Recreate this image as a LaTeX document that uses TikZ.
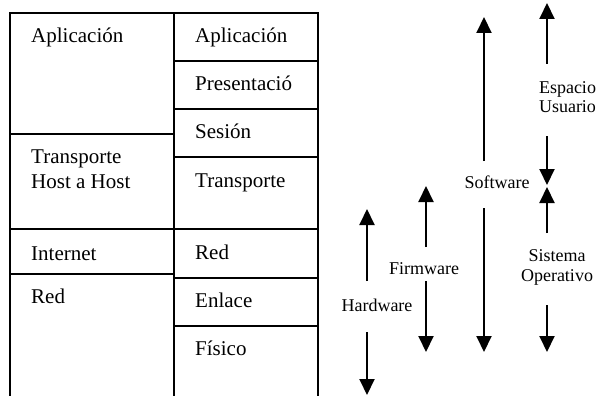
\documentclass[tikz,border=0pt]{standalone}
\usepackage{fontspec}
\setmainfont{Liberation Serif}
\usetikzlibrary{arrows.meta}
\begin{document}
\begin{tikzpicture}[x=1pt,y=-1pt,
 grid/.style={line width=1.8pt},
 cell/.style={anchor=base west,inner sep=0pt,font=\fontsize{21}{25}\selectfont},
 lbl/.style={anchor=base,inner sep=0pt,font=\fontsize{18}{20}\selectfont},
 arr/.style={line width=2pt,-{Triangle[width=15pt,length=16pt]}}]
\useasboundingbox (0,0) rectangle (600,396);
% table frame
\draw[grid] (10,396) -- (10,13) -- (318,13) -- (318,396);
\draw[grid] (174,13) -- (174,396);
% left column separators
\draw[grid] (10,134) -- (174,134);
\draw[grid] (10,229) -- (174,229);
\draw[grid] (10,274) -- (174,274);
% right column separators
\draw[grid] (174,61) -- (318,61);
\draw[grid] (174,109) -- (318,109);
\draw[grid] (174,157) -- (318,157);
\draw[grid] (174,229) -- (318,229);
\draw[grid] (174,278) -- (318,278);
\draw[grid] (174,326) -- (318,326);
% left column texts
\node[cell] (lapp) at (31,43) {Aplicación};
\node[cell] (ltr1) at (31,163) {Transporte};
\node[cell] (ltr2) at (31,188) {Host a Host};
\node[cell] (lint) at (31,260) {Internet};
\node[cell] (lred) at (31,303) {Red};
% right column texts
\node[cell] (rapp) at (195,43) {Aplicación};
\node[cell] (rpre) at (195,91) {Presentació};
\node[cell] (rses) at (195,139) {Sesión};
\node[cell] (rtra) at (195,187) {Transporte};
\node[cell] (rred) at (195,259) {Red};
\node[cell] (renl) at (195,307) {Enlace};
\node[cell] (rfis) at (195,355) {Físico};
% labels
\node[lbl] (sw) at (497,188) {Software};
\node[lbl] (eu1) at (567.5,93) {Espacio};
\node[lbl] (eu2) at (567.5,113) {Usuario};
\node[lbl] (so1) at (557,261) {Sistema};
\node[lbl] (so2) at (557,281) {Operativo};
\node[lbl] (fw) at (424,274) {Firmware};
\node[lbl] (hw) at (377,311) {Hardware};
% arrow ends
\coordinate (swUa) at (484,161); \coordinate (swUb) at (484,17);
\coordinate (swDa) at (484,208); \coordinate (swDb) at (484,352);
\coordinate (euUa) at (547,64);  \coordinate (euUb) at (547,3);
\coordinate (euDa) at (547,136); \coordinate (euDb) at (547,185);
\coordinate (soUa) at (547,233); \coordinate (soUb) at (547,187);
\coordinate (soDa) at (547,305); \coordinate (soDb) at (547,352);
\coordinate (fwUa) at (426,247); \coordinate (fwUb) at (426,186);
\coordinate (fwDa) at (426,281); \coordinate (fwDb) at (426,352);
\coordinate (hwUa) at (367,281); \coordinate (hwUb) at (367,209);
\coordinate (hwDa) at (367,332); \coordinate (hwDb) at (367,395);
\draw[arr] (swUa) -- (swUb);
\draw[arr] (swDa) -- (swDb);
\draw[arr] (euUa) -- (euUb);
\draw[arr] (euDa) -- (euDb);
\draw[arr] (soUa) -- (soUb);
\draw[arr] (soDa) -- (soDb);
\draw[arr] (fwUa) -- (fwUb);
\draw[arr] (fwDa) -- (fwDb);
\draw[arr] (hwUa) -- (hwUb);
\draw[arr] (hwDa) -- (hwDb);
\end{tikzpicture}
\end{document}
